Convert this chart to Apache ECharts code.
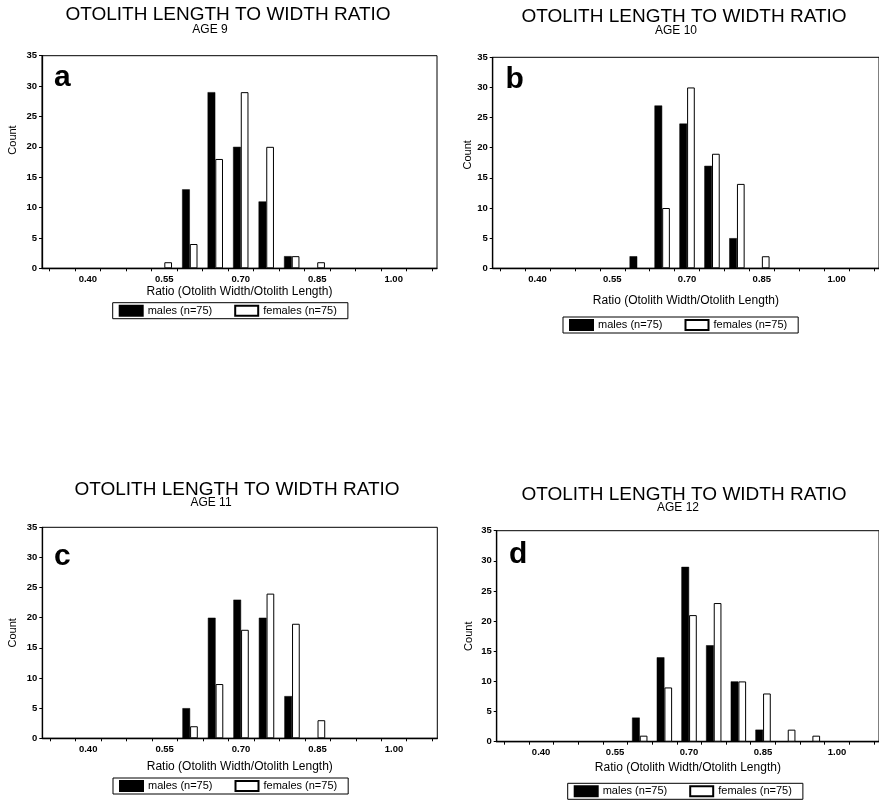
<!DOCTYPE html>
<html>
<head>
<meta charset="utf-8">
<script src="https://cdn.jsdelivr.net/npm/echarts@6/dist/echarts.min.js"></script>
<style>
  html, body { margin: 0; padding: 0; background: #fff; }
  #chart { width: 879px; height: 811px; }
</style>
</head>
<body>
<div id="chart"></div>
<script>
// bin centres (ratio) shared by every panel
const bins = [0.55, 0.60, 0.65, 0.70, 0.75, 0.80, 0.85, 0.90, 0.95];

const males9 = [0, 13, 29, 20, 11, 2, 0, 0, 0];
const females9 = [1, 4, 18, 29, 20, 2, 1, 0, 0];
const males10 = [0, 2, 27, 24, 17, 5, 0, 0, 0];
const females10 = [0, 0, 10, 30, 19, 14, 2, 0, 0];
const males11 = [0, 5, 20, 23, 20, 7, 0, 0, 0];
const females11 = [0, 2, 9, 18, 24, 19, 3, 0, 0];
const males12 = [0, 4, 14, 29, 16, 10, 2, 0, 0];
const females12 = [0, 1, 9, 21, 23, 10, 8, 2, 1];

const xLabelValues = [0.40, 0.55, 0.70, 0.85, 1.00];
const xTickValues = [0.325, 0.375, 0.425, 0.475, 0.525, 0.575, 0.625, 0.675, 0.725,
  0.775, 0.825, 0.875, 0.925, 0.975, 1.025, 1.075];

const titleText = 'OTOLITH LENGTH TO WIDTH RATIO';
const ages = ['AGE 9', 'AGE 10', 'AGE 11', 'AGE 12'];
const letters = ['a', 'b', 'c', 'd'];
const maleName = 'males (n=75)';
const femaleName = 'females (n=75)';

const maleSets = [males9, males10, males11, males12];
const femaleSets = [females9, females10, females11, females12];

// panel geometry
const panels = [
  { left: 42, top: 55.7, height: 212.6, titleX: 228, titleY: 5, ageX: 210, ageY: 24,
    letterX: 54, letterY: 63, legendX: 112.7, legendY: 302.7, nameGap: 15, yNameGap: 24, yShift: 44 },
  { left: 492.7, top: 57.3, height: 211, titleX: 684, titleY: 7, ageX: 676, ageY: 25,
    letterX: 505.5, letterY: 65, legendX: 563, legendY: 317, nameGap: 26, yNameGap: 19, yShift: 16 },
  { left: 42.3, top: 527.3, height: 211, titleX: 237, titleY: 480, ageX: 211, ageY: 497,
    letterX: 54, letterY: 542, legendX: 113, legendY: 778, nameGap: 22, yNameGap: 23.5, yShift: 0 },
  { left: 496.7, top: 530.7, height: 211, titleX: 684, titleY: 485, ageX: 678, ageY: 502,
    letterX: 509, letterY: 540, legendX: 567.7, legendY: 783.3, nameGap: 20, yNameGap: 22, yShift: 0 },
];

const font = 'Liberation Sans, Arial, Helvetica, sans-serif';

function pairs(values) {
  return bins.map((b, j) => [b, values[j]]).filter(p => p[1] > 0);
}

const titles = [];
const grids = [];
const xAxes = [];
const yAxes = [];
const legends = [];
const series = [];

panels.forEach((p, i) => {
  titles.push({
    text: titleText, left: p.titleX, top: p.titleY, textAlign: 'center', padding: 0,
    textStyle: { fontFamily: font, fontSize: 19, fontWeight: 'normal', color: '#000' },
  });
  titles.push({
    text: ages[i], left: p.ageX, top: p.ageY, textAlign: 'center', padding: 0,
    textStyle: { fontFamily: font, fontSize: 12, fontWeight: 'normal', color: '#000' },
  });
  titles.push({
    text: letters[i], left: p.letterX, top: p.letterY, padding: 0,
    textStyle: { fontFamily: font, fontSize: 30, fontWeight: 'bold', color: '#000' },
  });

  grids.push({
    left: p.left, top: p.top, width: 395, height: p.height,
    show: true, borderColor: '#000', borderWidth: 1, backgroundColor: 'transparent',
  });

  xAxes.push({
    type: 'value', gridIndex: i, min: 0.31, max: 1.085,
    name: 'Ratio (Otolith Width/Otolith Length)',
    nameLocation: 'middle', nameGap: p.nameGap,
    nameTextStyle: { fontFamily: font, fontSize: 12, color: '#000' },
    axisLine: { show: true, onZero: false, lineStyle: { color: '#000', width: 1.3 } },
    axisTick: { show: true, length: 3, customValues: xTickValues, lineStyle: { color: '#000' } },
    axisLabel: {
      customValues: xLabelValues, margin: 6,
      formatter: v => v.toFixed(2),
      fontFamily: font, fontSize: 9.5, fontWeight: 'bold', color: '#000',
    },
    splitLine: { show: false },
  });

  yAxes.push({
    type: 'value', gridIndex: i, min: 0, max: 35, interval: 5,
    name: 'Count', nameLocation: 'middle', nameGap: p.yNameGap,
    nameTextStyle: { fontFamily: font, fontSize: 11, color: '#000', padding: [0, 0, 0, p.yShift] },
    axisLine: { show: true, lineStyle: { color: '#000', width: 1.3 } },
    axisTick: { show: true, length: 3, lineStyle: { color: '#000' } },
    axisLabel: { margin: 5, fontFamily: font, fontSize: 9.5, fontWeight: 'bold', color: '#000' },
    splitLine: { show: false },
  });

  legends.push({
    left: p.legendX, top: p.legendY, orient: 'horizontal',
    data: [maleName, femaleName],
    itemWidth: 23, itemHeight: 10, itemGap: 22,
    padding: [2, 11, 2, 6], borderColor: '#000', borderWidth: 1,
    icon: 'rect', selectedMode: false,
    textStyle: { fontFamily: font, fontSize: 11, color: '#000' },
  });

  series.push({
    name: maleName, type: 'bar', xAxisIndex: i, yAxisIndex: i,
    barWidth: 7.7, barGap: '0%',
    itemStyle: { color: '#000', borderColor: '#000', borderWidth: 0.5 },
    data: pairs(maleSets[i]),
    silent: true, animation: false,
  });
  series.push({
    name: femaleName, type: 'bar', xAxisIndex: i, yAxisIndex: i,
    barWidth: 7.7, barGap: '0%',
    itemStyle: { color: '#fff', borderColor: '#000', borderWidth: 1 },
    data: pairs(femaleSets[i]),
    silent: true, animation: false,
  });
});

const chart = echarts.init(document.getElementById('chart'), null, { renderer: 'canvas' });
chart.setOption({
  backgroundColor: '#fff',
  animation: false,
  title: titles,
  grid: grids,
  xAxis: xAxes,
  yAxis: yAxes,
  legend: legends,
  series: series,
});
</script>
</body>
</html>
